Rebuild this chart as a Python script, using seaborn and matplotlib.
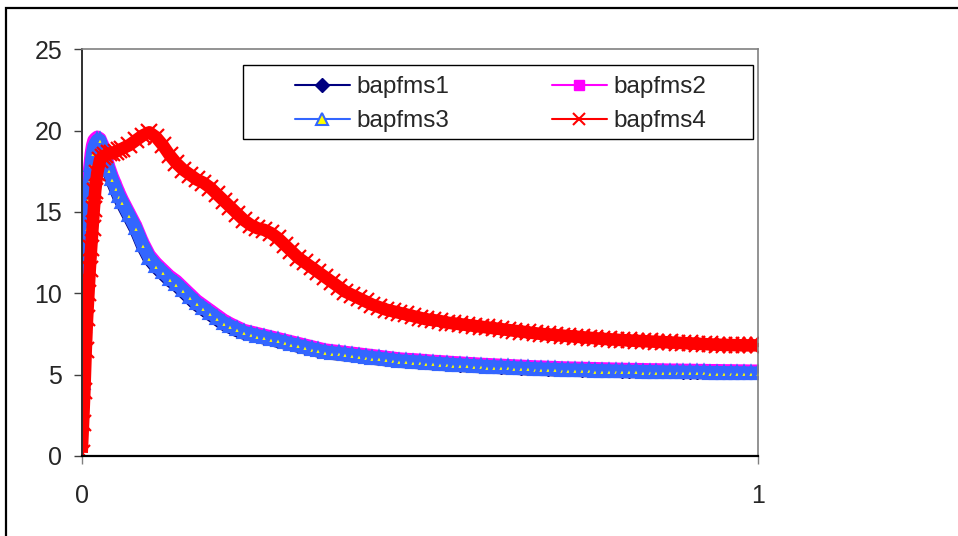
import matplotlib
matplotlib.use("Agg")
import matplotlib.pyplot as plt
from matplotlib.patches import Rectangle
from matplotlib.lines import Line2D
import seaborn as sns

# x positions shared by all four runs
x_vals = [0, 0.002, 0.004, 0.006, 0.008, 0.010, 0.012, 0.014, 0.016, 0.018,
          0.020, 0.023, 0.027, 0.031, 0.035, 0.040, 0.045, 0.050, 0.055,
          0.06, 0.07, 0.08, 0.09, 0.10, 0.11, 0.12, 0.13, 0.14, 0.15,
          0.16, 0.17, 0.18, 0.19, 0.20, 0.21, 0.22, 0.23, 0.24, 0.25,
          0.26, 0.27, 0.28, 0.29, 0.30, 0.31, 0.32, 0.33, 0.34, 0.35,
          0.36, 0.37, 0.38, 0.39, 0.40, 0.41, 0.42, 0.43, 0.44, 0.45,
          0.46, 0.47, 0.48, 0.49, 0.50, 0.51, 0.52, 0.53, 0.54, 0.55,
          0.56, 0.57, 0.58, 0.59, 0.60, 0.61, 0.62, 0.63, 0.64, 0.65,
          0.66, 0.67, 0.68, 0.69, 0.70, 0.71, 0.72, 0.73, 0.74, 0.75,
          0.76, 0.77, 0.78, 0.79, 0.80, 0.81, 0.82, 0.83, 0.84, 0.85,
          0.86, 0.87, 0.88, 0.89, 0.90, 0.91, 0.92, 0.93, 0.94, 0.95,
          0.96, 0.97, 0.98, 0.99, 1.00]

bapfms1 = [2.2, 4.8, 8.5, 12.0, 14.5, 16.2, 17.3, 18.2, 18.8, 19.1,
           19.3, 19.5, 19.3, 18.8, 18.2, 17.5, 16.9, 16.4, 15.9,
           15.5, 14.7, 13.9, 12.9, 12.1, 11.6, 11.2, 10.8, 10.5, 10.1,
           9.7, 9.3, 9.0, 8.7, 8.4, 8.1, 7.9, 7.7, 7.55, 7.45,
           7.35, 7.25, 7.15, 7.05, 6.95, 6.85, 6.75, 6.65, 6.55, 6.45,
           6.36, 6.31, 6.26, 6.21, 6.16, 6.11, 6.06, 6.01, 5.96, 5.91,
           5.86, 5.82, 5.79, 5.76, 5.73, 5.7, 5.67, 5.64, 5.61, 5.59,
           5.56, 5.54, 5.51, 5.49, 5.47, 5.45, 5.43, 5.41, 5.39, 5.37,
           5.35, 5.34, 5.32, 5.31, 5.29, 5.28, 5.27, 5.26, 5.25, 5.24,
           5.23, 5.22, 5.21, 5.2, 5.19, 5.18, 5.18, 5.17, 5.16, 5.16,
           5.15, 5.14, 5.14, 5.13, 5.13, 5.12, 5.12, 5.11, 5.11, 5.1,
           5.1, 5.09, 5.09, 5.08, 5.08]

bapfms2 = [2.4, 5.5, 9.5, 13.0, 15.3, 16.8, 17.8, 18.6, 19.1, 19.4,
           19.5, 19.6, 19.5, 19.1, 18.5, 17.8, 17.2, 16.7, 16.2,
           15.75, 14.95, 14.15, 13.15, 12.35, 11.85, 11.45, 11.05, 10.75, 10.35,
           9.95, 9.55, 9.25, 8.95, 8.65, 8.35, 8.12, 7.92, 7.72, 7.62,
           7.52, 7.42, 7.32, 7.22, 7.12, 7.02, 6.92, 6.82, 6.72, 6.62,
           6.52, 6.47, 6.42, 6.37, 6.32, 6.27, 6.22, 6.17, 6.12, 6.07,
           6.02, 5.97, 5.94, 5.92, 5.89, 5.86, 5.82, 5.8, 5.77, 5.74,
           5.72, 5.69, 5.67, 5.64, 5.62, 5.6, 5.58, 5.56, 5.54, 5.52,
           5.5, 5.48, 5.47, 5.45, 5.44, 5.42, 5.41, 5.4, 5.39, 5.38,
           5.37, 5.36, 5.35, 5.34, 5.33, 5.32, 5.32, 5.31, 5.3, 5.3,
           5.29, 5.28, 5.28, 5.27, 5.27, 5.26, 5.26, 5.25, 5.25, 5.24,
           5.24, 5.23, 5.23, 5.22, 5.22]

bapfms3 = [2.0, 4.5, 8.0, 11.5, 14.0, 15.8, 17.0, 17.9, 18.6, 19.0,
           19.2, 19.4, 19.4, 18.9, 18.3, 17.6, 17.0, 16.5, 16.0,
           15.6, 14.8, 14.0, 13.0, 12.2, 11.7, 11.3, 10.9, 10.6, 10.2,
           9.8, 9.4, 9.1, 8.8, 8.5, 8.2, 8.0, 7.8, 7.6, 7.5,
           7.4, 7.3, 7.2, 7.1, 7.0, 6.9, 6.8, 6.7, 6.6, 6.5,
           6.4, 6.35, 6.3, 6.25, 6.2, 6.15, 6.1, 6.05, 6.0, 5.95,
           5.9, 5.85, 5.82, 5.8, 5.77, 5.74, 5.7, 5.68, 5.65, 5.62,
           5.6, 5.57, 5.55, 5.52, 5.5, 5.48, 5.46, 5.44, 5.42, 5.4,
           5.38, 5.36, 5.35, 5.33, 5.32, 5.3, 5.29, 5.28, 5.27, 5.26,
           5.25, 5.24, 5.23, 5.22, 5.21, 5.2, 5.2, 5.19, 5.18, 5.18,
           5.17, 5.16, 5.16, 5.15, 5.15, 5.14, 5.14, 5.13, 5.13, 5.12,
           5.12, 5.11, 5.11, 5.1, 5.1]

bapfms4 = [0.2, 2.0, 4.0, 6.5, 8.5, 10.0, 11.5, 12.8, 14.0, 15.2,
           16.3, 17.4, 18.2, 18.4, 18.5, 18.6, 18.6, 18.7, 18.8,
           18.9, 19.1, 19.4, 19.7, 19.9, 19.6, 19.1, 18.5, 18.0, 17.6,
           17.3, 17.0, 16.8, 16.5, 16.1, 15.7, 15.3, 14.9, 14.5, 14.2,
           14.0, 13.9, 13.7, 13.4, 13.0, 12.6, 12.2, 11.9, 11.6, 11.3,
           11.0, 10.7, 10.4, 10.1, 9.9, 9.7, 9.5, 9.3, 9.15, 9.0,
           8.9, 8.8, 8.7, 8.6, 8.5, 8.4, 8.35, 8.3, 8.2, 8.15,
           8.1, 8.05, 8.0, 7.95, 7.9, 7.85, 7.8, 7.75, 7.7, 7.65,
           7.6, 7.55, 7.5, 7.47, 7.44, 7.4, 7.37, 7.34, 7.3, 7.27,
           7.24, 7.2, 7.18, 7.15, 7.12, 7.1, 7.08, 7.06, 7.04, 7.02,
           7.0, 6.98, 6.96, 6.94, 6.92, 6.9, 6.88, 6.86, 6.84, 6.83,
           6.82, 6.81, 6.8, 6.8, 6.8]

y_ticks = [0, 5, 10, 15, 20, 25]
x_ticks = [0, 1]

sns.set_style("white")
plt.rcParams['font.family'] = ['Liberation Sans', 'DejaVu Sans']

fig = plt.figure(figsize=(9.58, 5.36), dpi=100)
ax = fig.add_axes([0.0853, 0.1493, 0.7056, 0.7587])

# outer chart border (Excel chart area)
fig.patches.append(Rectangle((5.5 / 958, -0.2), 1.5, 1.2 - 7.5 / 536,
                             transform=fig.transFigure, fill=False,
                             edgecolor='black', linewidth=1.6))

# the runs are so dense in the original that markers merge into thick bands
series = [
    ("bapfms1", bapfms1, dict(color='#000080', marker='D', mfc='#000080', mec='#000080',
                              markersize=6, mew=1, linewidth=9.5)),
    ("bapfms2", bapfms2, dict(color='#FF00FF', marker='s', mfc='#FF00FF', mec='#FF00FF',
                              markersize=6, mew=1, linewidth=9.5)),
    ("bapfms3", bapfms3, dict(color='#3366FF', marker='^', mfc='#FFFF00', mec='#3366FF',
                              markersize=7, mew=3, linewidth=9.5)),
    ("bapfms4", bapfms4, dict(color='#FF0000', marker='x', mfc='#FF0000', mec='#FF0000',
                              markersize=11, mew=1.6, linewidth=9)),
]

for name, vals, kw in series:
    sns.lineplot(x=x_vals, y=vals, ax=ax, sort=False, estimator=None,
                 legend=False, solid_capstyle='butt', solid_joinstyle='round', **kw)

ax.set_xlim(0, 1)
ax.set_ylim(0, 25)
ax.set_xticks(x_ticks)
ax.set_xticklabels(['0', '1'])
ax.set_yticks(y_ticks)
ax.tick_params(axis='y', direction='out', length=6, width=1, color='#404040',
               labelsize=18, pad=8, left=True)
ax.tick_params(axis='x', direction='out', length=6, width=1, color='#808080',
               labelsize=18, pad=14, bottom=True)

ax.spines['top'].set_color('#808080')
ax.spines['right'].set_color('#808080')
ax.spines['left'].set_color('#303030')
ax.spines['bottom'].set_color('black')
for s in ['top', 'right']:
    ax.spines[s].set_linewidth(1.2)
ax.spines['left'].set_linewidth(1.4)
ax.spines['bottom'].set_linewidth(1.6)

# legend box
ax.add_patch(Rectangle((0.239, 0.7795), 0.754, 0.1819, transform=ax.transAxes,
                       facecolor='white', edgecolor='black', linewidth=1,
                       zorder=5, clip_on=False))
proxies = {
    "bapfms1": Line2D([], [], color='#000080', lw=1.5, marker='D', ms=7,
                      mfc='#000080', mec='#000080'),
    "bapfms2": Line2D([], [], color='#FF00FF', lw=1.5, marker='s', ms=7,
                      mfc='#FF00FF', mec='#FF00FF'),
    "bapfms3": Line2D([], [], color='#3366FF', lw=1.5, marker='^', ms=8.5,
                      mfc='#FFFF00', mec='#3366FF', mew=1.5),
    "bapfms4": Line2D([], [], color='#FF0000', lw=1.5, marker='x', ms=8.5,
                      mec='#FF0000', mew=1.5),
}
order = ["bapfms1", "bapfms3", "bapfms2", "bapfms4"]
leg = ax.legend([proxies[n] for n in order], order, ncol=2, frameon=False,
                loc='upper left', bbox_to_anchor=(0.3155, 0.934),
                borderpad=0, borderaxespad=0, fontsize=17.5,
                handlelength=2.26, handletextpad=0.28, columnspacing=4.2,
                labelspacing=0.5)
leg.set_zorder(6)

fig.savefig("out.png", dpi=100)
